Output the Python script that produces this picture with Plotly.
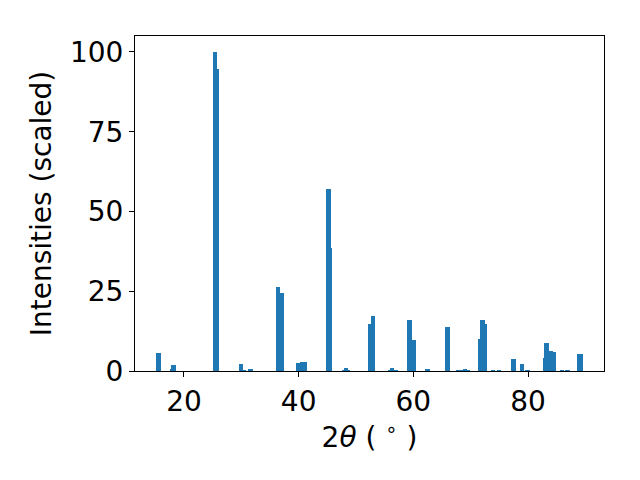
import plotly.graph_objects as go

two_theta = [15.58, 17.90, 18.15, 25.42, 25.66, 29.97, 30.38, 31.57, 36.43, 37.03,
             39.93, 40.63, 41.05, 45.17, 45.37, 47.97, 48.27, 48.57, 52.52, 52.94,
             55.98, 56.30, 56.96, 59.34, 60.10, 62.43, 66.00, 67.90, 68.30, 68.98,
             69.55, 71.75, 72.10, 72.52, 73.88, 74.93, 77.47, 78.92, 79.86, 83.05,
             83.25, 83.88, 84.55, 85.91, 86.85, 88.88, 89.13]
intensity = [5.8, 0.6, 1.9, 100.0, 94.6, 2.2, 0.3, 0.6, 26.3, 24.5,
             2.5, 2.9, 2.9, 57.0, 38.5, 0.3, 0.9, 0.3, 14.6, 17.1,
             0.3, 0.9, 0.3, 15.9, 9.6, 0.6, 13.7, 0.3, 0.3, 0.6,
             0.3, 9.9, 15.9, 14.6, 0.3, 0.3, 3.7, 2.1, 0.3, 4.0,
             8.7, 6.2, 5.9, 0.3, 0.3, 5.2, 5.2]
x_ticks = [20, 40, 60, 80]
y_ticks = [0, 25, 50, 75, 100]
bar_width = 0.8

lo = min(two_theta) - bar_width / 2
hi = max(two_theta) + bar_width / 2
pad = 0.05 * (hi - lo)
x_range = [lo - pad, hi + pad]
y_range = [0, max(intensity) * 1.05]

font = dict(family="DejaVu Sans", size=28, color="black")

fig = go.Figure(go.Bar(
    x=two_theta, y=intensity, width=[bar_width] * len(two_theta),
    marker=dict(color="#1f77b4", line=dict(width=0)),
    hoverinfo="x+y",
))

axis_common = dict(
    showline=True, mirror=True, linecolor="black", linewidth=1,
    ticks="outside", ticklen=5, tickwidth=1, tickcolor="black",
    showgrid=False, zeroline=False, tickfont=font,
)

fig.update_layout(
    width=640, height=480,
    margin=dict(l=127, r=44, t=28, b=117, autoexpand=False),
    paper_bgcolor="white", plot_bgcolor="white",
    barmode="overlay", bargap=0, showlegend=False,
    font=font,
    xaxis=dict(range=x_range, tickvals=x_ticks, ticktext=[str(t) for t in x_ticks],
               title=dict(text="2<i>θ</i> ( <sup>∘</sup> )", font=font, standoff=2),
               **axis_common),
    yaxis=dict(range=y_range, tickvals=y_ticks, ticktext=[str(t) for t in y_ticks],
               title=dict(text="Intensities (scaled)", font=font, standoff=10),
               **axis_common),
)

fig.write_html("out.html")
